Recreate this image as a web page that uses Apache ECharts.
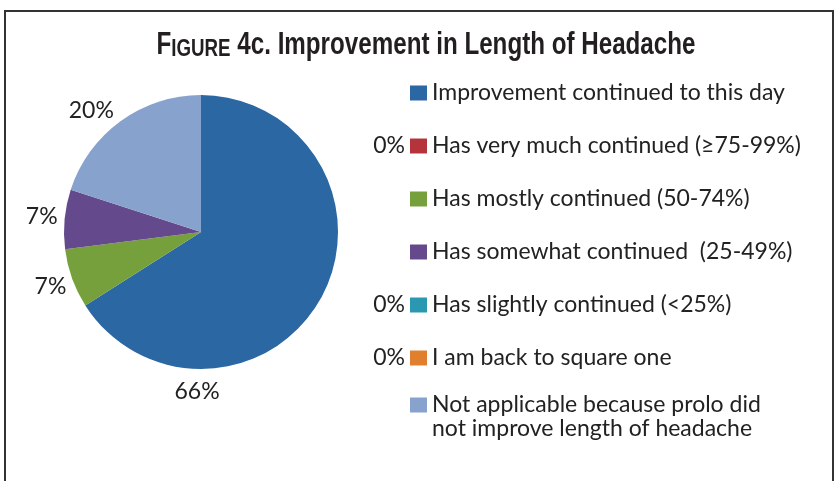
<!DOCTYPE html>
<html>
<head>
<meta charset="utf-8">
<script src="https://cdn.jsdelivr.net/npm/echarts@6/dist/echarts.min.js"></script>
<style>
html,body{margin:0;padding:0;background:#fff;}
#c{width:836px;height:481px;}
</style>
</head>
<body>
<div id="c"></div>
<script>
// ---- data ----
const categories = [
  'Improvement continued to this day',
  'Has very much continued (\u226575-99%)',
  'Has mostly continued (50-74%)',
  'Has somewhat continued  (25-49%)',
  'Has slightly continued (<25%)',
  'I am back to square one',
  'Not applicable because prolo did\nnot improve length of headache'
];
const percentages = [66, 0, 7, 7, 0, 0, 20];
const colors = ['#2b67a2', '#b5343c', '#76a03c', '#644a8c', '#2b98b1', '#e0802e', '#87a2cd'];
const titleText = { cap: 'F', small: 'IGURE', rest: ' 4c. Improvement in Length of Headache' };

// ---- layout / style ----
const CX = 201, CY = 232, R = 137;
const labelAngleOverride = { 0: 181.4, 6: 318 };
const labelDistOverride = { 6: 164 };
const LEG_LEFT = 410, LEG_TOP = 81, LEG_GAP = 29, LEG_LH = 24;
const textFont = 'Lato, "Open Sans", sans-serif';
const FS = 23;
const titleFont = '"Liberation Sans", Arial, sans-serif';

const total = percentages.reduce((a, b) => a + b, 0);
const midAngles = [];
let acc = 0;
percentages.forEach(v => { midAngles.push((acc + v / 2) / total * 360); acc += v; });

const chart = echarts.init(document.getElementById('c'), null, { renderer: 'canvas' });

const zeroTexts = [];
percentages.forEach((v, i) => {
  if (v === 0 && i < 6) {
    zeroTexts.push({
      type: 'text',
      x: 405,
      y: LEG_TOP + LEG_LH / 2 + i * (LEG_LH + LEG_GAP),
      style: {
        text: v + '%', fill: '#222', font: FS + 'px ' + textFont,
        align: 'right', verticalAlign: 'middle'
      }
    });
  }
});

const option = {
  backgroundColor: '#fff',
  animation: false,
  legend: [
    {
      orient: 'vertical', left: LEG_LEFT, top: LEG_TOP, padding: 0,
      itemWidth: 17, itemHeight: 15, itemGap: LEG_GAP, icon: 'rect',
      data: categories.slice(0, 6),
      selectedMode: false,
      textStyle: { fontFamily: textFont, fontSize: FS, color: '#222', lineHeight: LEG_LH }
    },
    {
      orient: 'vertical', left: LEG_LEFT, top: 369, padding: 0,
      itemWidth: 17, itemHeight: 15, icon: 'rect',
      data: [categories[6]],
      selectedMode: false,
      formatter: n => ' \n' + n,
      textStyle: { fontFamily: textFont, fontSize: FS, color: '#222', lineHeight: LEG_LH }
    }
  ],
  graphic: [
    { type: 'rect', shape: { x: 5, y: 11, width: 828, height: 480 }, style: { fill: 'none', stroke: '#333', lineWidth: 2 }, silent: true },
    {
      type: 'text', x: 426, y: 61, scaleX: 0.78, silent: true,
      style: {
        text: '{a|' + titleText.cap + '}{b|' + titleText.small + '}{a|' + titleText.rest + '}',
        align: 'center', verticalAlign: 'bottom',
        rich: {
          a: { fontFamily: titleFont, fontWeight: 'bold', fontSize: 31, fill: '#231f20', verticalAlign: 'bottom' },
          b: { fontFamily: titleFont, fontWeight: 'bold', fontSize: 24, fill: '#231f20', verticalAlign: 'bottom' }
        }
      }
    },
    ...zeroTexts
  ],
  series: [{
    type: 'pie',
    center: [CX, CY],
    radius: [0, R],
    startAngle: 90,
    clockwise: true,
    avoidLabelOverlap: false,
    itemStyle: { borderWidth: 0 },
    label: {
      show: true, position: 'outside',
      formatter: p => p.value + '%',
      fontFamily: textFont, fontSize: FS, color: '#222'
    },
    labelLine: { show: false },
    labelLayout: function (p) {
      const i = p.dataIndex;
      const ang = (labelAngleOverride[i] !== undefined ? labelAngleOverride[i] : midAngles[i]) * Math.PI / 180;
      const d = labelDistOverride[i] !== undefined ? labelDistOverride[i] : 160;
      return { x: CX + d * Math.sin(ang), y: CY - d * Math.cos(ang), align: 'center', verticalAlign: 'middle' };
    },
    emphasis: { disabled: true },
    data: categories.map((n, i) => ({
      name: n, value: percentages[i],
      itemStyle: { color: colors[i] },
      label: { show: percentages[i] > 0 }
    }))
  }]
};
chart.setOption(option);
</script>
</body>
</html>
